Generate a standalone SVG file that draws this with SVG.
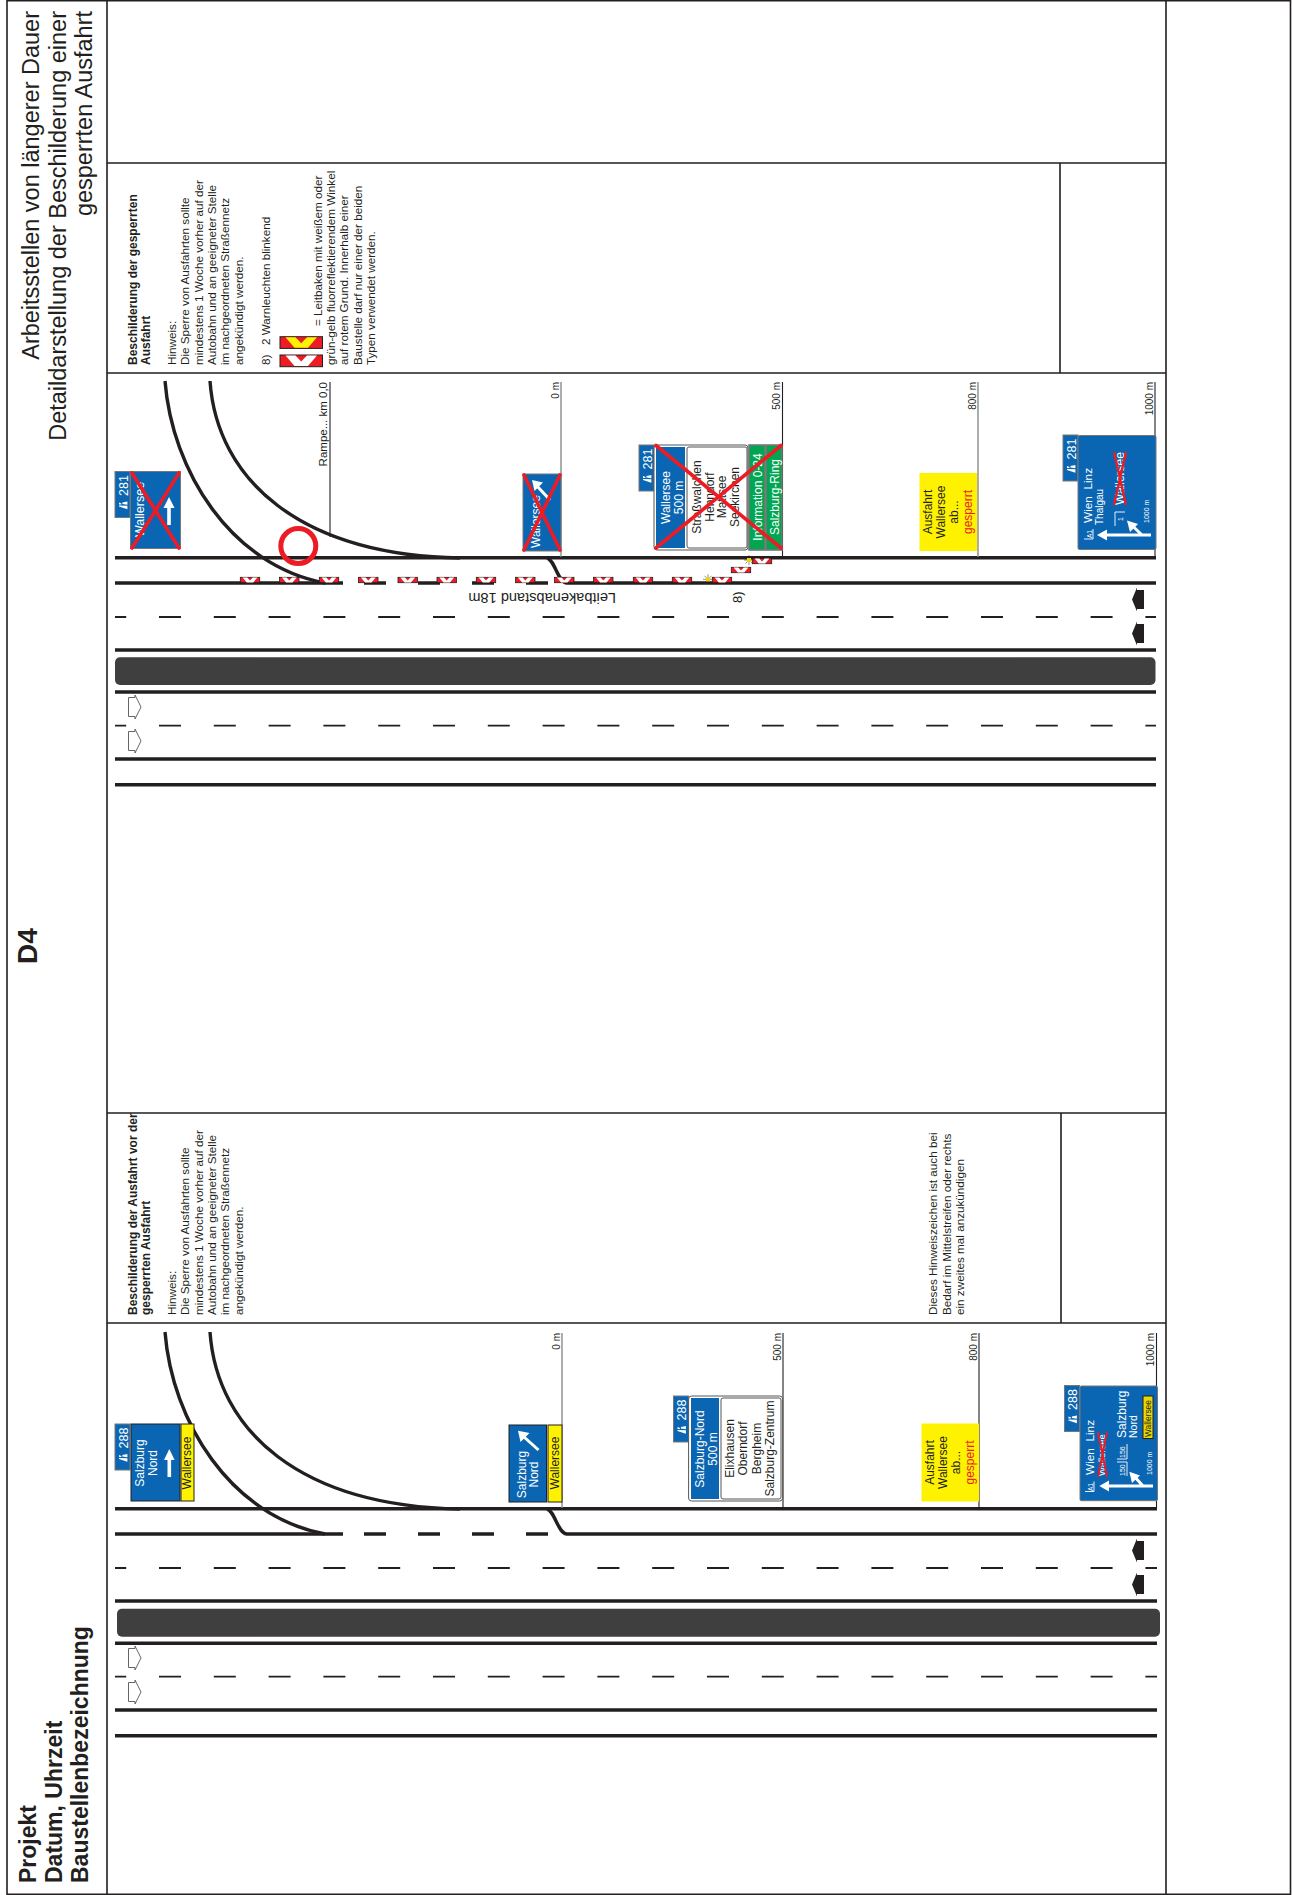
<svg xmlns="http://www.w3.org/2000/svg" xmlns:xlink="http://www.w3.org/1999/xlink" width="1292" height="1895" viewBox="0 0 1292 1895">
<style>
text{font-family:"Liberation Sans",Arial,sans-serif;fill:#231f20}
.w{fill:#fff}
.red{fill:#ed1c24}
.m{text-anchor:middle}
.e{text-anchor:end}
.b{font-weight:bold}
.n{font-size:11.7px}
.nb{font-size:12px;font-weight:bold}
.s12{font-size:12px}
.s10{font-size:10px}
.s7{font-size:7px}
.tn{font-size:12.5px;fill:#fff}
.frame{stroke:#231f20;stroke-width:1.6;fill:none}
.road{stroke:#231f20;stroke-width:3.4;fill:none}
.cdash{stroke:#231f20;stroke-width:1.8;fill:none;stroke-dasharray:22 32.8;stroke-dashoffset:10.8}
.tick{stroke:#231f20;stroke-width:1.1;fill:none}
.tickg{stroke:#8a8a8a;stroke-width:1.4;fill:none}
.blue{fill:#0a66b2;stroke:#777;stroke-width:1}
.bluek{fill:#0a66b2;stroke:#231f20;stroke-width:1}
.plate{fill:#fff;stroke:#555;stroke-width:1}
.yel{fill:#fff200}
.yelk{fill:#fff200;stroke:#231f20;stroke-width:1}
.ar{stroke:#fff;stroke-width:3.6;fill:none}
.arh{fill:#fff}
.x{stroke:#ed1c24;stroke-width:3.6;fill:none;stroke-linecap:round}
.x2{stroke:#ed1c24;stroke-width:2;fill:none}
.thin{stroke:#fff;stroke-width:.9;fill:none}
</style>
<defs>
<g id="icon"><path d="M4.4 4.2L4.4 .8L-4 .6L-4 1.6ZM4.4 -.2L4.4 -3.6L-.6 -2.6L-.6 -.9ZM-1.6 -1.4L-4 -2.4L-4 -.5L-1.6 -.6Z" fill="#fff"/></g>
<g id="tab"><rect width="15" height="46" class="blue"/><use xlink:href="#icon" transform="translate(8 33.5)"/></g>
<g id="bk"><rect x=".3" y=".3" width="19.4" height="5.4" fill="#ed1c24" stroke="#231f20" stroke-width=".8"/><polygon points="2.6,.6 7.3,.6 10,3.4 12.7,.6 17.4,.6 13.2,5.4 6.8,5.4" fill="#fff"/></g>
<polygon id="chev" points="5.5,.6 15.5,.6 21.2,6.5 27,.6 37,.6 28,11.1 14.5,11.1"/>
<g id="lamp"><path d="M-5 0H5M0 -5V5M-3.5 -3.5L3.5 3.5M-3.5 3.5L3.5 -3.5" stroke="#231f20" stroke-width=".5"/><rect x="-2" y="-2" width="4" height="4" fill="#e8d800"/></g>
<path id="carB" d="M1132 0L1137 -12L1137 -9.5L1144 -9.5L1144 9.5L1137 9.5L1137 12Z" fill="#231f20"/>
<path id="carW" d="M128.5 -9.5L135 -9.5L135 -12L141 0L135 12L135 9.5L128.5 9.5Z" fill="#fff" stroke="#555" stroke-width=".9"/>
<g id="ysign"><rect width="57.5" height="78" class="yel"/>
<text class="s12 m" transform="translate(28.5 39) rotate(-90)"><tspan x="0" y="-16">Ausfahrt</tspan><tspan x="0" y="-3">Wallersee</tspan><tspan x="0" y="10">ab...</tspan><tspan x="0" y="24" class="red">gesperrt</tspan></text></g>
</defs>

<g id="frame">
<path class="frame" d="M7 .8H1290.5V1894.2H7ZM107 .8V1894.2M1166 .8V1894.2M107 163H1166M107 373H1166M107 1113H1166M107 1323H1166M1060 163V373M1061 1113V1323"/>
</g>

<g id="titles">
<text transform="translate(39 11) rotate(-90)" class="e" style="font-size:23.5px"><tspan x="0" y="0">Arbeitsstellen von längerer Dauer</tspan><tspan x="0" y="26.5">Detaildarstellung der Beschilderung einer</tspan><tspan x="0" y="53">gesperrten Ausfahrt</tspan></text>
<text transform="translate(37 946) rotate(-90)" class="m b" style="font-size:28px">D4</text>
<text transform="translate(36 1883) rotate(-90)" class="b" style="font-size:23px"><tspan x="0" y="0">Projekt</tspan><tspan x="0" y="26">Datum, Uhrzeit</tspan><tspan x="0" y="52">Baustellenbezeichnung</tspan></text>
</g>

<g id="notes-upper">
<text transform="translate(136.7 365) rotate(-90)" class="nb"><tspan x="0" y="0">Beschilderung der gesperrten</tspan><tspan x="0" y="13.3">Ausfahrt</tspan></text>
<text transform="translate(176 365) rotate(-90)" class="n"><tspan x="0" y="0">Hinweis:</tspan><tspan x="0" y="13.3">Die Sperre von Ausfahrten sollte</tspan><tspan x="0" y="26.6">mindestens 1 Woche vorher auf der</tspan><tspan x="0" y="39.9">Autobahn und an geeigneter Stelle</tspan><tspan x="0" y="53.2">im nachgeordneten Straßennetz</tspan><tspan x="0" y="66.5">angekündigt werden.</tspan></text>
<text transform="translate(270 365) rotate(-90)" class="n">8)</text>
<text transform="translate(270 345) rotate(-90)" class="n">2 Warnleuchten blinkend</text>
<g id="legend-yellow" transform="translate(280 336.7)"><rect width="42.5" height="11.7" fill="#ed1c24" stroke="#231f20" stroke-width="1"/><use xlink:href="#chev" fill="#fff200"/></g>
<g id="legend-white" transform="translate(280 355)"><rect width="42.5" height="11.7" fill="#ed1c24" stroke="#231f20" stroke-width="1"/><use xlink:href="#chev" fill="#fff"/></g>
<text transform="translate(321.7 326) rotate(-90)" class="n">= Leitbaken mit weißem oder</text>
<text transform="translate(335 365) rotate(-90)" class="n"><tspan x="0" y="0">grün-gelb fluorreflektierendem Winkel</tspan><tspan x="0" y="13.3">auf rotem Grund. Innerhalb einer</tspan><tspan x="0" y="26.6">Baustelle darf nur einer der beiden</tspan><tspan x="0" y="39.9">Typen verwendet werden.</tspan></text>
</g>

<g id="notes-lower">
<text transform="translate(136.7 1315) rotate(-90)" class="nb"><tspan x="0" y="0">Beschilderung der Ausfahrt vor der</tspan><tspan x="0" y="13.3">gesperrten Ausfahrt</tspan></text>
<text transform="translate(176 1315) rotate(-90)" class="n"><tspan x="0" y="0">Hinweis:</tspan><tspan x="0" y="13.3">Die Sperre von Ausfahrten sollte</tspan><tspan x="0" y="26.6">mindestens 1 Woche vorher auf der</tspan><tspan x="0" y="39.9">Autobahn und an geeigneter Stelle</tspan><tspan x="0" y="53.2">im nachgeordneten Straßennetz</tspan><tspan x="0" y="66.5">angekündigt werden.</tspan></text>
<text transform="translate(937 1315) rotate(-90)" class="n"><tspan x="0" y="0">Dieses Hinweiszeichen ist auch bei</tspan><tspan x="0" y="13.5">Bedarf im Mittelstreifen oder rechts</tspan><tspan x="0" y="27">ein zweites mal anzukündigen</tspan></text>
</g>

<g id="connectors">
<g id="roads-upper">
<path class="road" d="M115 557.7H1156M115 583H343M364 583H386M418 583H440M472 583H494M526 583H548M567 583H1156M115 650H1156M115 692H1156M115 759H1156M115 784.7H1156"/>
<path class="road" d="M165 381C172 470 230 565 325 583M210 381C217 480 300 555 460 558M547 558C555 560 558 583 567 583"/>
<path class="cdash" d="M115 617H1156M115 725.7H1156"/>
<rect x="115" y="657.3" width="1040.5" height="27.7" rx="5" fill="#3f3f3f"/>
</g>
<g id="roads-lower">
<path class="road" d="M115 1508.7H1157M115 1534H343M364 1534H386M418 1534H440M472 1534H494M526 1534H548M567 1534H1157M115 1601H1157M115 1643.3H1157M115 1710H1157M115 1735.7H1157"/>
<path class="road" d="M165 1332C172 1421 230 1516 325 1534M210 1332C217 1431 300 1506 460 1509M547 1509C555 1511 558 1534 567 1534"/>
<path class="cdash" d="M115 1568H1157M115 1676.7H1157"/>
<rect x="117" y="1608.7" width="1043" height="28" rx="5" fill="#3f3f3f"/>
</g>
<path class="tick" d="M330 382V537M782.5 382V557M1155 382V557M783 1333V1508M1156.5 1333V1508M979 1333V1508"/>
<path class="tickg" d="M561 382V557M978 382V557M562 1333V1508"/>
</g>

<g id="chainages">
<text transform="translate(327 382) rotate(-90)" class="e" style="font-size:11.5px">Rampe... km 0,0</text>
<text transform="translate(559 382) rotate(-90)" class="e s10">0 m</text>
<text transform="translate(780 382) rotate(-90)" class="e s10">500 m</text>
<text transform="translate(975.5 382) rotate(-90)" class="e s10">800 m</text>
<text transform="translate(1152.5 382) rotate(-90)" class="e s10">1000 m</text>
<text transform="translate(560 1333) rotate(-90)" class="e s10">0 m</text>
<text transform="translate(781 1333) rotate(-90)" class="e s10">500 m</text>
<text transform="translate(977 1333) rotate(-90)" class="e s10">800 m</text>
<text transform="translate(1154 1333) rotate(-90)" class="e s10">1000 m</text>
</g>

<g id="cars">
<use xlink:href="#carW" y="707"/><use xlink:href="#carW" y="741"/><use xlink:href="#carB" y="599.5"/><use xlink:href="#carB" y="633.5"/>
<use xlink:href="#carW" y="1658"/><use xlink:href="#carW" y="1692"/><use xlink:href="#carB" y="1550.5"/><use xlink:href="#carB" y="1584.5"/>
</g>

<g id="beacons">
<use xlink:href="#bk" x="240" y="577"/><use xlink:href="#bk" x="279.3" y="577"/><use xlink:href="#bk" x="319" y="577"/><use xlink:href="#bk" x="358.3" y="577"/><use xlink:href="#bk" x="397.7" y="577"/><use xlink:href="#bk" x="436.7" y="577"/><use xlink:href="#bk" x="476" y="577"/><use xlink:href="#bk" x="515.3" y="577"/><use xlink:href="#bk" x="554.3" y="577"/><use xlink:href="#bk" x="593.3" y="577"/><use xlink:href="#bk" x="633" y="577"/><use xlink:href="#bk" x="672" y="577"/><use xlink:href="#bk" x="712" y="577"/><use xlink:href="#bk" x="731" y="567"/><use xlink:href="#bk" x="752" y="558"/>
<use xlink:href="#lamp" x="708" y="579.3"/><use xlink:href="#lamp" x="749" y="560"/>
<circle cx="298.3" cy="546" r="17.5" fill="none" stroke="#ed1c24" stroke-width="5"/>
<text transform="translate(616 592.5) rotate(180)" style="font-size:14.6px">Leitbakenabstand 18m</text>
<text transform="translate(742 603) rotate(-90)" style="font-size:13px">8)</text>
</g>

<g id="sign-u-1000a">
<use xlink:href="#tab" x="115" y="471.5"/><text transform="translate(127.7 496) rotate(-90)" class="tn">281</text>
<rect x="130.5" y="471.5" width="50" height="77" class="blue"/>
<text transform="translate(144 537) rotate(-90)" class="w" style="font-size:12.5px">Wallersee</text>
<path class="ar" d="M169 525V505"/><polygon class="arh" points="169,497 163.5,508 174.5,508"/>
<path class="x" d="M132 473L179 548M179 473L132 548"/>
</g>
<g id="sign-u-0">
<rect x="523" y="474" width="38" height="77" class="blue"/>
<text transform="translate(539.5 548) rotate(-90)" class="w s12">Wallersee</text>
<path class="ar" d="M550 500L537 486" style="stroke-width:3"/><polygon class="arh" points="532,480 543,482.5 534.5,491"/>
<path class="x" d="M524 475L560 550M560 475L524 550"/>
</g>
<g id="sign-u-500">
<use xlink:href="#tab" x="639" y="445"/><text transform="translate(651.7 469.5) rotate(-90)" class="tn">281</text>
<rect x="654" y="445" width="94" height="105" rx="3" class="plate"/>
<rect x="656" y="447" width="29" height="101" fill="#0a66b2"/>
<rect x="687" y="447" width="60" height="101" rx="2" class="plate"/>
<text transform="translate(670 497.5) rotate(-90)" class="w s12 m"><tspan x="0" y="0">Wallersee</tspan><tspan x="0" y="12.5">500 m</tspan></text>
<text transform="translate(701 497) rotate(-90)" class="s12 m"><tspan x="0" y="0">Straßwalchen</tspan><tspan x="0" y="12.7">Henndorf</tspan><tspan x="0" y="25.4">Mattsee</tspan><tspan x="0" y="38.1">Seekirchen</tspan></text>
<rect x="749" y="445" width="16" height="105" fill="#00a651" stroke="#777" stroke-width="1.6"/>
<rect x="766" y="445" width="16" height="105" fill="#00a651" stroke="#777" stroke-width="1.6"/>
<text transform="translate(761.5 497) rotate(-90)" class="w s12 m">Information 0-24</text>
<text transform="translate(778.5 497) rotate(-90)" class="w s12 m">Salzburg-Ring</text>
<path class="x" d="M656 548L781 445.5M656 445.5L781 548"/>
</g>
<g id="sign-u-800"><use xlink:href="#ysign" x="919.5" y="473"/></g>
<g id="sign-u-1000">
<use xlink:href="#tab" x="1063" y="435"/><text transform="translate(1075.7 459.5) rotate(-90)" class="tn">281</text>
<rect x="1078" y="435.5" width="78" height="114" rx="1.5" class="blue"/>
<text transform="translate(1092 523) rotate(-90)" class="w" style="font-size:11.8px" xml:space="preserve">Wien  Linz</text>
<text transform="translate(1103 525) rotate(-90)" class="w s10">Thalgau</text>
<text transform="translate(1124 505) rotate(-90)" class="w s12">Wallersee</text>
<path class="x2" d="M1114 452L1126 505M1126 452L1114 505" style="stroke-width:2.4"/>
<path class="thin" d="M1084 539H1093V529"/>
<text transform="translate(1091.5 538) rotate(-90)" class="w" style="font-size:6.5px">A1</text>
<path class="thin" d="M1115 526V512H1125"/>
<text transform="translate(1123 521) rotate(-90)" class="w s7">1</text>
<text transform="translate(1149 523) rotate(-90)" class="w s7">1000 m</text>
<path class="ar" d="M1151 535H1104M1142 535L1131 524.5" style="stroke-width:3"/><polygon class="arh" points="1097,535 1107,529.5 1107,540.5"/><polygon class="arh" points="1127,520.5 1138,524 1130,532"/>
</g>

<g id="sign-l-1000a">
<use xlink:href="#tab" x="115" y="1424"/><text transform="translate(127.7 1448.5) rotate(-90)" class="tn">288</text>
<rect x="131" y="1424" width="49" height="77" class="bluek"/>
<rect x="181" y="1424" width="13" height="77" class="yelk"/>
<text transform="translate(144 1463) rotate(-90)" class="w s12 m"><tspan x="0" y="0">Salzburg</tspan><tspan x="0" y="13.3">Nord</tspan></text>
<path class="ar" d="M169.3 1477V1458"/><polygon class="arh" points="169.3,1449 164,1460 174.6,1460"/>
<text transform="translate(191 1463) rotate(-90)" class="s12 m">Wallersee</text>
</g>
<g id="sign-l-0">
<rect x="509" y="1425" width="37.5" height="77" class="bluek"/>
<rect x="548" y="1425" width="14" height="77" class="yelk"/>
<text transform="translate(525.7 1474.5) rotate(-90)" class="w s12 m"><tspan x="0" y="0">Salzburg</tspan><tspan x="0" y="12.7">Nord</tspan></text>
<path class="ar" d="M538.5 1450L524 1437" style="stroke-width:3"/><polygon class="arh" points="518,1430.7 529.5,1433 520.5,1442"/>
<text transform="translate(558.5 1463) rotate(-90)" class="s12 m">Wallersee</text>
</g>
<g id="sign-l-500">
<use xlink:href="#tab" x="673.5" y="1396"/><text transform="translate(686.2 1420.5) rotate(-90)" class="tn">288</text>
<rect x="688.6" y="1396" width="94" height="105" rx="3" class="plate"/>
<rect x="691" y="1398" width="28" height="101" fill="#0a66b2"/>
<rect x="721" y="1398" width="60" height="101" rx="2" class="plate"/>
<text transform="translate(704.4 1449) rotate(-90)" class="w s12 m"><tspan x="0" y="0">Salzburg-Nord</tspan><tspan x="0" y="12.9">500 m</tspan></text>
<text transform="translate(733.6 1448.5) rotate(-90)" class="s12 m"><tspan x="0" y="0">Elixhausen</tspan><tspan x="0" y="13.6">Oberndorf</tspan><tspan x="0" y="27.2">Bergheim</tspan><tspan x="0" y="40.4">Salzburg-Zentrum</tspan></text>
</g>
<g id="sign-l-800"><use xlink:href="#ysign" x="921.5" y="1423.5"/></g>
<g id="sign-l-1000">
<use xlink:href="#tab" x="1064.5" y="1385.5"/><text transform="translate(1077.2 1410) rotate(-90)" class="tn">288</text>
<rect x="1080" y="1386" width="77.5" height="114.7" rx="1.5" class="bluek" style="stroke:#777"/>
<text transform="translate(1094 1475) rotate(-90)" class="w" style="font-size:11.8px" xml:space="preserve">Wien  Linz</text>
<text transform="translate(1105 1476) rotate(-90)" class="w" style="font-size:9.5px">Wallersee</text>
<path class="x2" d="M1098 1432L1107 1477M1107 1432L1098 1477"/>
<text transform="translate(1126 1438) rotate(-90)" class="w s12">Salzburg</text>
<text transform="translate(1136.5 1438) rotate(-90)" class="w" style="font-size:10.5px">Nord</text>
<path class="thin" d="M1117 1459H1127V1444M1117 1462H1127V1476"/>
<text transform="translate(1125 1458) rotate(-90)" class="w s7">156</text>
<text transform="translate(1125 1476) rotate(-90)" class="w s7">150</text>
<rect x="1143" y="1396" width="10" height="42.5" fill="#e8d800" stroke="#231f20" stroke-width="1"/>
<text transform="translate(1151 1437) rotate(-90)" style="font-size:8.4px">Wallersee</text>
<text transform="translate(1152 1475) rotate(-90)" class="w s7">1000 m</text>
<path class="thin" d="M1085 1491.5H1094V1481.5"/>
<text transform="translate(1092.5 1491) rotate(-90)" class="w" style="font-size:6.5px">A1</text>
<path class="ar" d="M1153 1486H1106M1143 1486L1133.5 1475.5" style="stroke-width:3"/><polygon class="arh" points="1099.3,1486 1109,1480.5 1109,1491.5"/><polygon class="arh" points="1129.3,1471.7 1140,1475.5 1132,1483"/>
</g>
</svg>
